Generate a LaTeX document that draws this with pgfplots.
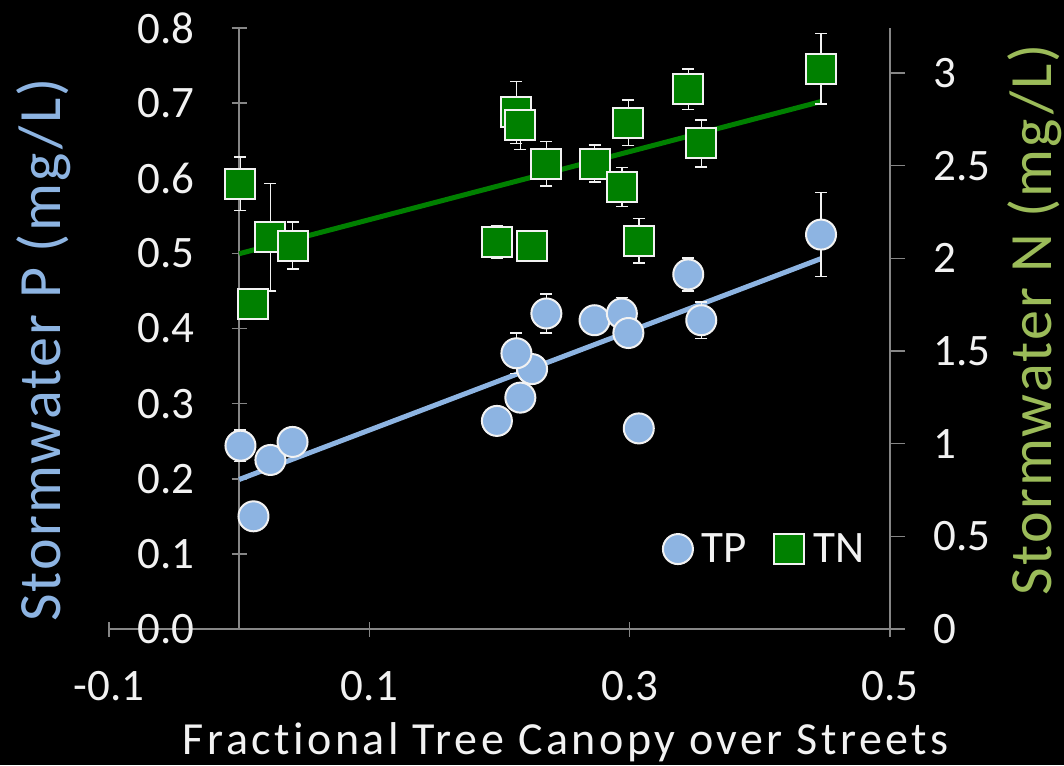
\documentclass[border=0pt]{standalone}
\usepackage{pgfplots}
\pgfplotsset{compat=1.18}
\usepackage{pgfplotstable}
\usepackage{fontspec}
\setmainfont{Carlito}[Ligatures=NoCommon]
\newfontfamily\lblfont[LetterSpace=3.6,Ligatures=NoCommon]{Carlito}
\newfontfamily\xlblfont[LetterSpace=7.6,Ligatures=NoCommon]{Carlito}
\definecolor{tpblue}{RGB}{141,180,226}
\definecolor{tngreen}{RGB}{0,128,0}
\definecolor{nlabel}{RGB}{155,187,89}
\definecolor{axgray}{RGB}{134,134,134}
\definecolor{txt}{RGB}{242,242,242}

\pgfplotstableread{
x y e
0.001 0.244 0.021
0.011 0.150 0
0.024 0.225 0
0.041 0.249 0
0.198 0.277 0
0.216 0.308 0
0.225 0.346 0
0.213 0.367 0.027
0.236 0.420 0.026
0.273 0.411 0
0.294 0.420 0.021
0.299 0.394 0
0.307 0.267 0
0.345 0.472 0.022
0.355 0.411 0.024
0.447 0.525 0.056
}\tpdata

\pgfplotstableread{
x y e
0.001 2.403 0.145
0.011 1.754 0
0.024 2.114 0.290
0.041 2.069 0.127
0.198 2.089 0.088
0.225 2.067 0
0.213 2.788 0.167
0.216 2.718 0.130
0.236 2.511 0.120
0.273 2.511 0.100
0.294 2.385 0.105
0.299 2.732 0.123
0.307 2.094 0.120
0.345 2.913 0.110
0.355 2.620 0.127
0.447 3.022 0.190
}\tndata

\pgfplotsset{
  common/.style={
    scale only axis, width=781pt, height=601pt,
    at={(109pt,136pt)}, anchor=south west,
    xmin=-0.1, xmax=0.5, clip=false,
    tick align=outside, major tick length=15pt,
    tick style={axgray, line width=1.5pt},
    ticklabel style={font=\fontsize{45}{53}\selectfont, text=txt, inner sep=0pt},
  },
  noarrows/.style={
    axis line style={-, axgray, line width=1.5pt},
    every inner x axis line/.append style={-},
    every inner y axis line/.append style={-},
    every outer x axis line/.append style={-},
    every outer y axis line/.append style={-},
  },
  ebars/.style={only marks, mark=none, forget plot,
    error bars/.cd, y dir=both, y explicit,
    error bar style={draw=txt, line width=1.5pt},
    error mark options={rotate=90, draw=txt, mark size=6pt, line width=1.5pt}},
  tpmark/.style={only marks, mark=*, mark size=15pt,
    mark options={fill=tpblue, draw=txt, line width=2pt}},
  tnmark/.style={only marks, mark=square*, mark size=15pt,
    mark options={fill=tngreen, draw=txt, line width=2pt}},
}

\begin{document}
\begin{tikzpicture}
\fill[black] (0,0) rectangle (1064pt,765pt);
\begin{axis}[common,
  ymin=0, ymax=0.8,
  axis x line=bottom, axis y line=middle,
  noarrows,
  hide obscured x ticks=false, hide obscured y ticks=false,
  xtick={-0.1,0.1,0.3,0.5}, xticklabels={-0.1,0.1,0.3,0.5},
  ytick={0,0.1,0.2,0.3,0.4,0.5,0.6,0.7,0.8},
  yticklabels={0.0,0.1,0.2,0.3,0.4,0.5,0.6,0.7,0.8},
  xticklabel style={anchor=north, yshift=-35pt},
  yticklabel style={anchor=east, xshift=-37pt},
]
\addplot[tpblue, line width=5pt, forget plot] coordinates {(0,0.199) (0.447,0.493)};
\addplot[ebars] table[x=x, y=y, y error=e] {\tpdata};
\addplot[tpmark, forget plot] table[x=x, y=y] {\tpdata};
\node[rotate=90, anchor=base, inner sep=0pt, text=tpblue, font=\fontsize{60}{70}\lblfont]
  at (axis description cs:-0.0615,0.464) {Stormwater P (mg/L)};
\node[anchor=base, inner sep=0pt, text=txt, font=\fontsize{46}{55}\xlblfont]
  at (axis description cs:0.585,-0.208) {Fractional Tree Canopy over Streets};
\end{axis}
\begin{axis}[common,
  ymin=0, ymax=3.243,
  axis x line=none, axis y line*=right,
  noarrows,
  ytick={0,0.5,1,1.5,2,2.5,3},
  yticklabels={0,0.5,1,1.5,2,2.5,3},
  yticklabel style={anchor=west, xshift=28pt},
  legend image code/.code={\draw[#1] plot coordinates {(0pt,0pt)};},
  legend columns=2,
  legend style={at={(axis description cs:0.709,0.133)}, anchor=west,
    draw=none, fill=none, inner sep=0pt, text=txt,
    font=\fontsize{45}{54}\selectfont,
    nodes={inner sep=0pt},
    column sep=9pt,
    /tikz/every even column/.append style={column sep=27pt}},
]
\addlegendimage{tpmark}
\addlegendentry{TP}
\addplot[tngreen, line width=5pt, forget plot] coordinates {(0,2.025) (0.447,2.846)};
\addplot[ebars] table[x=x, y=y, y error=e] {\tndata};
\addplot[tnmark] table[x=x, y=y] {\tndata};
\addlegendentry{TN}
\node[rotate=90, anchor=base, inner sep=0pt, text=nlabel, font=\fontsize{60}{70}\lblfont]
  at (axis description cs:1.2062,0.515) {Stormwater N (mg/L)};
\end{axis}
\pgfresetboundingbox
\useasboundingbox (0,0) rectangle (1064pt,765pt);
\end{tikzpicture}
\end{document}
